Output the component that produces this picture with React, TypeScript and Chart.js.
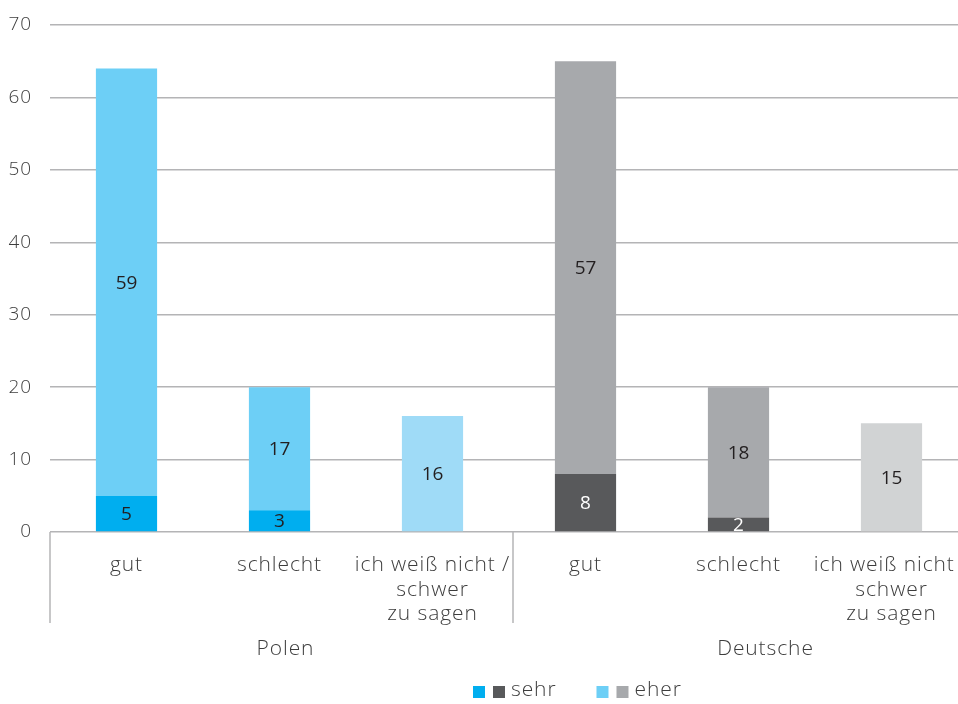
import React, { useEffect, useRef } from "react";
import { Chart, registerables } from "chart.js";

Chart.register(...registerables);

// ---- data ----
const categories: string[][] = [
  ["gut"],
  ["schlecht"],
  ["ich weiß nicht /", "schwer", "zu sagen"],
  ["gut"],
  ["schlecht"],
  ["ich weiß nicht /", "schwer", "zu sagen"],
];
const groupLabels = ["Polen", "Deutsche"];
const sehrValues = [5, 3, null, 8, 2, null];
const eherValues = [59, 17, null, 57, 18, null];
const unknownValues = [null, null, 16, null, null, 15];
const legendLabels = ["sehr", "eher"];
const yMin = 0;
const yMax = 70;
const yStep = 10;

// ---- styles ----
const sehrColors = ["#00aeef", "#00aeef", "#00aeef", "#58595b", "#58595b", "#58595b"];
const eherColors = ["#6dcff6", "#6dcff6", "#6dcff6", "#a7a9ac", "#a7a9ac", "#a7a9ac"];
const unknownColors = ["#9fdbf7", "#9fdbf7", "#9fdbf7", "#d1d3d4", "#d1d3d4", "#d1d3d4"];
const sehrLabelColors = ["#231f20", "#231f20", "#231f20", "#ffffff", "#ffffff", "#ffffff"];
const eherLabelColors = ["#231f20", "#231f20", "#231f20", "#231f20", "#231f20", "#231f20"];
const unknownLabelColors = ["#231f20", "#231f20", "#231f20", "#231f20", "#231f20", "#231f20"];
const legendSwatches = [
  ["#00aeef", "#58595b"],
  ["#6dcff6", "#a7a9ac"],
];
const FONT = "'Open Sans', 'DejaVu Sans', sans-serif";
const TEXT = "#3d3d3d";
const GRID = "#b4b4b6";

const spacingPlugin = {
  id: "spacing",
  beforeDraw(chart: any) {
    try {
      (chart.ctx as any).letterSpacing = "0.9px";
    } catch (e) {}
  },
};

const overlayPlugin = {
  id: "overlay",
  afterDatasetsDraw(chart: any) {
    const ctx = chart.ctx;
    const labelColorSets = [sehrLabelColors, eherLabelColors, unknownLabelColors];
    ctx.save();
    (ctx as any).letterSpacing = "0px";
    ctx.font = `500 19px ${FONT}`;
    ctx.textAlign = "center";
    ctx.textBaseline = "middle";
    chart.data.datasets.forEach((ds: any, di: number) => {
      const meta = chart.getDatasetMeta(di);
      meta.data.forEach((el: any, i: number) => {
        const v = ds.data[i];
        if (v === null || v === undefined) return;
        ctx.fillStyle = labelColorSets[di][i];
        ctx.fillText(String(v), el.x, (el.y + el.base) / 2 + 1);
      });
    });
    ctx.restore();
  },
  afterDraw(chart: any) {
    const ctx = chart.ctx;
    const x = chart.scales.x;
    const area = chart.chartArea;
    ctx.save();
    (ctx as any).letterSpacing = "0.9px";
    // group separators
    ctx.strokeStyle = GRID;
    ctx.lineWidth = 1.5;
    const sepX = [x.left, (x.getPixelForValue(2) + x.getPixelForValue(3)) / 2 + 4];
    sepX.forEach((sx) => {
      ctx.beginPath();
      ctx.moveTo(sx, area.bottom);
      ctx.lineTo(sx, area.bottom + 91);
      ctx.stroke();
    });
    // group labels
    ctx.font = `300 21px ${FONT}`;
    ctx.fillStyle = TEXT;
    ctx.textAlign = "center";
    ctx.textBaseline = "middle";
    ctx.fillText(groupLabels[0], x.getPixelForValue(1) + 6, area.bottom + 117);
    ctx.fillText(groupLabels[1], x.getPixelForValue(4) + 27, area.bottom + 117);
    // legend
    let lx = 473;
    const ly = area.bottom + 160;
    ctx.textAlign = "left";
    legendLabels.forEach((lab, li) => {
      const [c1, c2] = legendSwatches[li];
      ctx.fillStyle = c1;
      ctx.fillRect(lx, ly - 6, 12, 12);
      ctx.fillStyle = c2;
      ctx.fillRect(lx + 20, ly - 6, 12, 12);
      ctx.fillStyle = TEXT;
      ctx.fillText(lab, lx + 38, ly - 2);
      const w = ctx.measureText(lab).width;
      lx += 38 + w + 40;
    });
    ctx.restore();
  },
};

export default function App() {
  const ref = useRef<HTMLCanvasElement | null>(null);
  useEffect(() => {
    if (!ref.current) return;
    const chart = new Chart(ref.current, {
      type: "bar",
      data: {
        labels: categories,
        datasets: [
          { label: "sehr", data: sehrValues, backgroundColor: sehrColors, stack: "s" },
          { label: "eher", data: eherValues, backgroundColor: eherColors, stack: "s" },
          { label: "weiß nicht", data: unknownValues, backgroundColor: unknownColors, stack: "s" },
        ],
      },
      options: {
        animation: false,
        responsive: false,
        devicePixelRatio: 1,
        datasets: { bar: { categoryPercentage: 1, barPercentage: 0.4, borderWidth: 0 } },
        layout: { padding: { top: 25, right: 32, left: 0, bottom: 0 } },
        plugins: { legend: { display: false }, tooltip: { enabled: false } },
        scales: {
          x: {
            type: "category",
            stacked: true,
            offset: true,
            grid: { display: false, drawTicks: false },
            border: { display: false },
            ticks: {
              color: TEXT,
              font: { family: FONT, size: 21, weight: 300 as any, lineHeight: 1.17 },
              padding: 21,
              maxRotation: 0,
              autoSkip: false,
            },
            afterFit: (s: any) => {
              s.height = 172;
            },
          },
          y: {
            stacked: true,
            min: yMin,
            max: yMax,
            ticks: {
              stepSize: yStep,
              color: TEXT,
              font: { family: FONT, size: 19, weight: 300 as any },
              padding: 18,
            },
            grid: { color: GRID, lineWidth: 1.5, drawTicks: false },
            border: { display: false },
            afterFit: (s: any) => {
              s.width = 50;
              s.paddingTop = 0;
              s.paddingBottom = 0;
            },
          },
        },
      },
      plugins: [spacingPlugin, overlayPlugin],
    });
    return () => chart.destroy();
  }, []);
  return (
    <div style={{ position: "absolute", left: 0, top: 0, width: 958, height: 704, overflow: "hidden", background: "#fff" }}>
      <canvas ref={ref} width={1000} height={704} style={{ display: "block", width: 1000, height: 704 }} />
    </div>
  );
}
